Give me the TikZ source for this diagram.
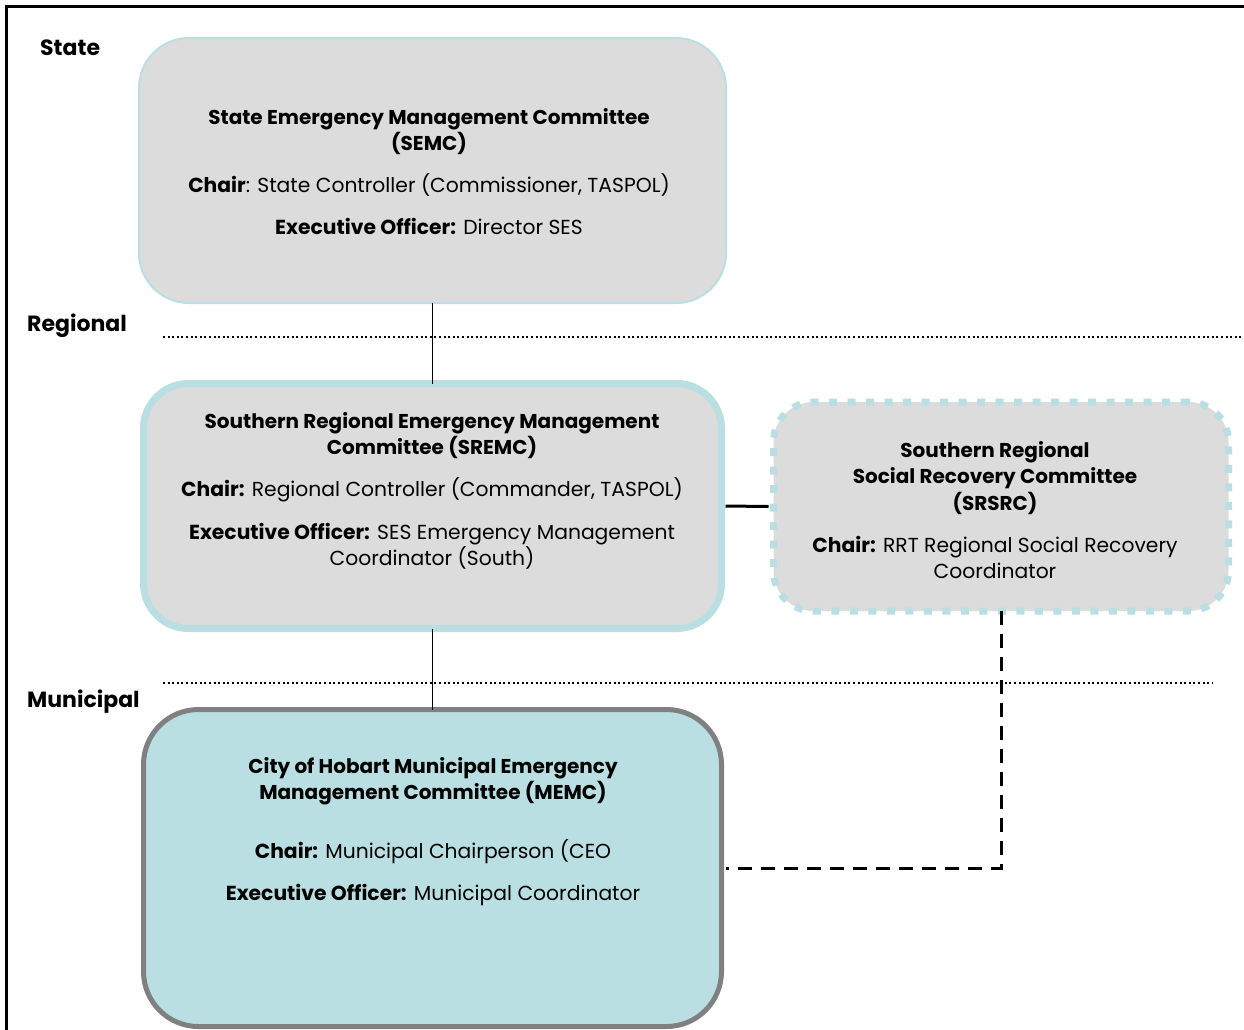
\documentclass[tikz,border=0pt]{standalone}
\usepackage{fontspec}
\setmainfont{Poppins}
\definecolor{boxgray}{HTML}{DCDCDC}
\definecolor{teal1}{HTML}{B9DFE2}
\definecolor{rimgray}{HTML}{808080}
\begin{document}
\begin{tikzpicture}[x=1pt,y=-1pt,
  box/.style={rectangle, inner sep=0pt, outer sep=0pt},
  semcbox/.style={box, rounded corners=50pt, draw=teal1, line width=2pt, fill=boxgray},
  sremcbox/.style={box, rounded corners=45pt, draw=teal1, line width=7pt, fill=boxgray},
  srsrcbox/.style={box, rounded corners=40pt, draw=teal1, line width=7pt, fill=boxgray, dash pattern=on 8pt off 10.5pt},
  memcbox/.style={box, rounded corners=55pt, draw=rimgray, line width=5pt, fill=teal1},
  lvl/.style={font=\bfseries\fontsize{22}{26}\selectfont, anchor=base west, inner sep=0pt},
  ttl/.style={font=\bfseries\fontsize{20}{24}\selectfont, anchor=base, inner sep=0pt},
  txt/.style={font=\fontsize{20.3}{24}\selectfont, anchor=base, inner sep=0pt},
  dotline/.style={line width=2pt, dash pattern=on 2pt off 2.6pt},
  solidcon/.style={line width=1.8pt},
  dashcon/.style={line width=3pt, dash pattern=on 14pt off 9pt}
]
\useasboundingbox (0,0) rectangle (1244,1029);
\clip (0,0) rectangle (1244,1029);
\fill[white] (0,0) rectangle (1244,1029);
\draw[line width=3pt] (6,6) rectangle (1270,1060);

% level labels
\node[lvl] (lstate) at (40,55) {State};
\node[lvl] (lregional) at (27,331) {Regional};
\node[lvl] (lmunicipal) at (27,707) {Municipal};

% dotted level lines
\coordinate (r1) at (163,337);
\coordinate (r2) at (1244,337);
\coordinate (m1) at (163,683);
\coordinate (m2) at (1213,683);
\draw[dotline] (r1) -- (r2);
\draw[dotline] (m1) -- (m2);

% boxes
\node[semcbox, minimum width=587pt, minimum height=265pt] (semc) at (432.5,170.5) {};
\node[sremcbox, minimum width=578pt, minimum height=245pt] (sremc) at (432.5,506) {};
\node[srsrcbox, minimum width=455pt, minimum height=209pt] (srsrc) at (1001,506.5) {};
\node[memcbox, minimum width=578pt, minimum height=317pt] (memc) at (432.5,868) {};

% connectors
\draw[solidcon] (semc.south) -- (sremc.north);
\draw[solidcon] (sremc.south) -- (memc.north);
\draw[line width=3pt] ([xshift=4pt]sremc.east) -- ([xshift=-5pt]srsrc.west);
\draw[dashcon] (srsrc.south) |- ([xshift=4pt]memc.east);

% SEMC text
\node[ttl] (s1) at (429,124) {State Emergency Management Committee};
\node[ttl] (s2) at (429,150) {(SEMC)};
\node[txt] (s3) at (429,192) {\textbf{Chair}: State Controller (Commissioner, TASPOL)};
\node[txt] (s4) at (429,234) {\textbf{Executive Officer:} Director SES};

% SREMC text
\node[ttl] (r1t) at (432,428) {Southern Regional Emergency Management};
\node[ttl] (r2t) at (432,454) {Committee (SREMC)};
\node[txt] (r3t) at (432,496) {\textbf{Chair:} Regional Controller (Commander, TASPOL)};
\node[txt] (r4t) at (432,539) {\textbf{Executive Officer:} SES Emergency Management};
\node[txt] (r5t) at (432,565) {Coordinator (South)};

% SRSRC text
\node[ttl] (c1t) at (995,457) {Southern Regional};
\node[ttl] (c2t) at (995,483) {Social Recovery Committee};
\node[ttl] (c3t) at (995,510) {(SRSRC)};
\node[txt] (c4t) at (995,552) {\textbf{Chair:} RRT Regional Social Recovery};
\node[txt] (c5t) at (995,578) {Coordinator};

% MEMC text
\node[ttl] (m1t) at (433,773) {City of Hobart Municipal Emergency};
\node[ttl] (m2t) at (433,799) {Management Committee (MEMC)};
\node[txt] (m3t) at (433,858) {\textbf{Chair:} Municipal Chairperson (CEO};
\node[txt] (m4t) at (433,900) {\textbf{Executive Officer:} Municipal Coordinator};
\end{tikzpicture}
\end{document}
